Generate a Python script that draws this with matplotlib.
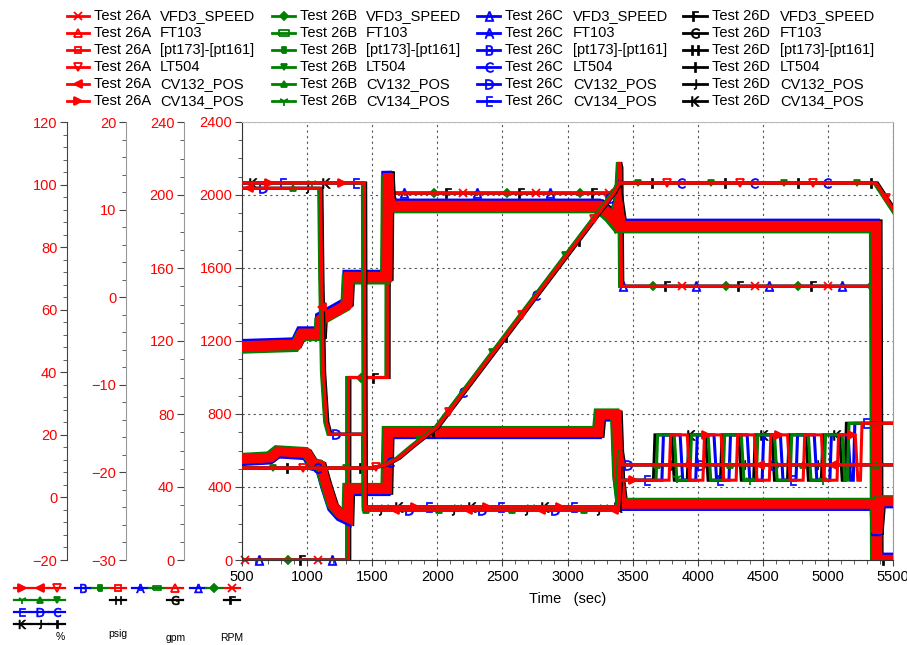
import numpy as np
import matplotlib.pyplot as plt
from matplotlib.lines import Line2D
from matplotlib.ticker import MultipleLocator

plt.rcParams['font.family'] = ['Liberation Sans', 'DejaVu Sans']

# ---- data (test 26A profile, other tests shifted) ----
tests = ['26A', '26B', '26C', '26D']
colors = ['#ff0000', '#008000', '#0000ff', '#000000']
var_names = ['VFD3_SPEED', 'FT103', '[pt173]-[pt161]', 'LT504', 'CV132_POS', 'CV134_POS']

time_shift = [0, -15, -10, 10]        # sec
pulse_shift = [0, -85, -45, -130]     # sec, CV134 cycling
ft_shift = [0, -1.2, 1.2, 0.8]        # gpm
pt_shift = [0, 0.15, -0.25, -0.1]     # psig

vfd_t = [480, 1318, 1319, 1620, 1622, 3385, 3398, 3408, 3415, 5372, 5376, 5520]
vfd_v = [0, 0, 1000, 1000, 2010, 2010, 2180, 2150, 1500, 1500, 0, 0]

ft_t = [480, 920, 960, 1104, 1110, 1310, 1320, 1615, 1622, 1632, 1650, 3250, 3330, 3365, 3390, 3410, 5370, 5378, 5520]
ft_v = [117, 118, 124, 124, 132, 140, 155, 155, 212, 198, 194, 194, 189, 186, 193, 183, 183, 0, 0]

pt_t = [480, 720, 780, 1000, 1050, 1106, 1150, 1200, 1260, 1316, 1322, 1615, 1625, 3240, 3252, 3378, 3395, 3420, 5370, 5380, 5400, 5520]
pt_v = [-18.5, -18.3, -17.6, -17.8, -19.0, -19.2, -21.5, -23.8, -24.8, -25.2, -21.9, -21.9, -15.4, -15.4, -13.4, -13.4, -20.5, -23.6, -23.6, -27, -23.3, -23.3]

lt_t = [480, 1500, 1600, 1700, 1800, 1900, 2000, 3360, 3400, 5370, 5520]
lt_v = [9.4, 9.4, 10.3, 12.5, 16, 19.3, 22.5, 97.5, 100.5, 100.5, 91]

cv132_t = [480, 1104, 1112, 1125, 1150, 1175, 1440, 1446, 3392, 3402, 3410, 3430, 5370, 5520]
cv132_v = [98.8, 98.8, 70, 40, 24, 20.2, 20.2, -4, -4, 12, 15, 10.4, 10.4, 10.4]

cv134_t = [480, 1440, 1446, 3392, 3405]
cv134_v = [100.5, 100.5, -3, -3, 5.5]
cv134_rises = [3780, 4040, 4295, 4550, 4810, 5070]
cv134_last_rise = 5250
cv134_lo, cv134_hi, cv134_end = 5.5, 20.0, 23.7

W, H = 907, 645
fig = plt.figure(figsize=(W / 100, H / 100), dpi=100)


def fx(px):
    return px / W


def fy(py):
    return 1 - py / H


L, R, T, B = 242, 893, 122, 560
ax = fig.add_axes([fx(L), fy(B), fx(R) - fx(L), fy(T) - fy(B)])
ax_gpm = ax.twinx()
ax_psig = ax.twinx()
ax_pct = ax.twinx()

ax.set_xlim(500, 5500)
ax.set_ylim(0, 2400)
ax_gpm.set_ylim(0, 240)
ax_psig.set_ylim(-30, 20)
ax_pct.set_ylim(-20, 120)

for a, px, major, minor, sc in [(ax_gpm, 184, 40, 10, '#999999'),
                                 (ax_psig, 126, 10, 2, '#999999'),
                                 (ax_pct, 67, 20, 4, '#444444')]:
    a.spines['left'].set_position(('axes', (px - L) / (R - L)))
    a.spines['left'].set_visible(True)
    a.spines['left'].set_color(sc)
    for s in ['right', 'top', 'bottom']:
        a.spines[s].set_visible(False)
    a.yaxis.set_ticks_position('left')
    a.yaxis.set_label_position('left')
    a.yaxis.set_major_locator(MultipleLocator(major))
    a.yaxis.set_minor_locator(MultipleLocator(minor))
    a.patch.set_visible(False)

ax.yaxis.set_major_locator(MultipleLocator(400))
ax.yaxis.set_minor_locator(MultipleLocator(100))
ax.xaxis.set_major_locator(MultipleLocator(500))
ax.xaxis.set_minor_locator(MultipleLocator(100))
ax.spines['right'].set_color('#999999')
ax.spines['top'].set_color('#bbbbbb')
ax.spines['left'].set_color('#333333')
ax.spines['bottom'].set_color('#333333')

for a in [ax, ax_gpm, ax_psig, ax_pct]:
    a.tick_params(axis='y', which='major', length=5, color='#444444',
                  labelcolor='red', labelsize=10.5, pad=2)
    a.tick_params(axis='y', which='minor', length=3, color='#444444')
ax.tick_params(axis='x', which='major', length=4, color='#444444',
               labelsize=10.5, pad=3)
ax.tick_params(axis='x', which='minor', length=3, color='#444444')
ax.set_xlabel('Time   (sec)', fontsize=10.5, labelpad=6)
ax.grid(True, which='major', color='#555555', linestyle=(0, (2, 3)), linewidth=0.8)

rect_wide = [[-1.8, -1], [1.8, -1], [1.8, 1], [-1.8, 1], [-1.8, -1]]
rect_thin = [[-0.6, -1], [0.6, -1], [0.6, 1], [-0.6, 1], [-0.6, -1]]


def let(c):
    return '$\\mathsf{%s}$' % c


# (marker, size, filled)
markers = [
    [('x', 6, True), ('^', 6, False), ('s', 5, False), ('v', 6, False), ('<', 6, True), ('>', 6, True)],
    [('D', 4, True), (rect_wide, 7, False), (rect_thin, 5, True), ('v', 5, True), ('^', 5, True), ('1', 7, True)],
    [('$\\Delta$', 7, True), (let('A'), 7, True), (let('B'), 7, True), (let('C'), 7, True), (let('D'), 7, True), (let('E'), 7, True)],
    [(let('F'), 7, True), (let('G'), 7, True), (let('H'), 7, True), (let('I'), 7, True), (let('J'), 7, True), (let('K'), 7, True)],
]


def cv134_series(k):
    t = list(cv134_t)
    v = list(cv134_v)
    for r in cv134_rises:
        r = r + pulse_shift[k]
        t += [r, r + 12, r + 140, r + 160]
        v += [cv134_lo, cv134_hi, cv134_hi, cv134_lo]
    r = cv134_last_rise + pulse_shift[k]
    t += [r, r + 12, 5520]
    v += [cv134_lo, cv134_end, cv134_end]
    return t, v


def mstyle(k, vi, scale=1.0):
    m, ms, filled = markers[k][vi]
    letter = isinstance(m, str) and m.startswith('$')
    return dict(marker=m, markersize=ms * scale, markeredgecolor=colors[k],
                markerfacecolor=colors[k] if filled else 'none',
                markeredgewidth=0.5 if letter else 1.3)


for k in [3, 2, 1, 0]:
    c = colors[k]
    ct, cv = cv134_series(k)
    series = [
        (ax, vfd_t, vfd_v, 0, 2.2),
        (ax_gpm, ft_t, ft_v, ft_shift[k], 7.5),
        (ax_psig, pt_t, pt_v, pt_shift[k], 7),
        (ax_pct, lt_t, lt_v, 0, 2.4),
        (ax_pct, cv132_t, cv132_v, 0, 2.2),
        (ax_pct, ct, cv, 0, 2.2),
    ]
    for vi, (a, t, v, dv, lw) in enumerate(series):
        tt = np.array(t, float) + time_shift[k]
        vv = np.array(v, float) + dv
        a.plot(tt, vv, color=c, lw=lw, solid_joinstyle='miter')
        # marker spacing is a drawing style of the logger plot, not data
        t0 = 520 + ((k * 6 + vi) * 149) % 560
        mt = np.arange(t0, 5450, 560)
        mv = np.interp(mt, tt, np.array(v, float))
        a.plot(mt, mv, linestyle='none', clip_on=False, **mstyle(k, vi))

# ---- legend at top ----
line_x = [(67, 89), (272, 295), (477, 500), (683, 707)]
text_x = [94, 300, 505, 712]
name_x = [160, 366, 573, 780]
row_y = [16, 33, 50, 67, 84, 101]
for k in range(4):
    for vi in range(6):
        y = row_y[vi]
        x0, x1 = line_x[k]
        fig.add_artist(Line2D([fx(x0), fx(x1)], [fy(y), fy(y)], transform=fig.transFigure,
                              color=colors[k], lw=2))
        fig.add_artist(Line2D([fx((x0 + x1) / 2)], [fy(y)], transform=fig.transFigure,
                              linestyle='none', **mstyle(k, vi)))
        fig.text(fx(text_x[k]), fy(y), 'Test ' + tests[k], fontsize=10.5, va='center')
        fig.text(fx(name_x[k]), fy(y), var_names[vi], fontsize=10.5, va='center')

# ---- axis key at bottom left ----
key_items = [
    # (test, variable, x, y)
    (0, 5, 22, 588), (0, 4, 40, 588), (0, 3, 57, 588),
    (1, 5, 22, 600), (1, 4, 40, 600), (1, 3, 57, 600),
    (2, 5, 22, 612), (2, 4, 40, 612), (2, 3, 57, 612),
    (3, 5, 22, 624), (3, 4, 40, 624), (3, 3, 57, 624),
    (2, 2, 83, 588), (1, 2, 100, 588), (0, 2, 118, 588), (3, 2, 118, 600),
    (2, 1, 140, 588), (1, 1, 157, 588), (0, 1, 175, 588), (3, 1, 175, 600),
    (2, 0, 198, 588), (1, 0, 214, 588), (0, 0, 232, 588), (3, 0, 232, 600),
]
for k, vi, x, y in key_items:
    fig.add_artist(Line2D([fx(x - 8), fx(x + 8)], [fy(y), fy(y)], transform=fig.transFigure,
                          color=colors[k], lw=1.6))
    fig.add_artist(Line2D([fx(x)], [fy(y)], transform=fig.transFigure,
                          linestyle='none', **mstyle(k, vi, 0.9)))
for label, x, y in [('%', 60, 637), ('psig', 118, 634), ('gpm', 176, 638), ('RPM', 232, 638)]:
    fig.text(fx(x), fy(y), label, fontsize=7.5, ha='center', va='center')

fig.savefig('out.png', dpi=100)
